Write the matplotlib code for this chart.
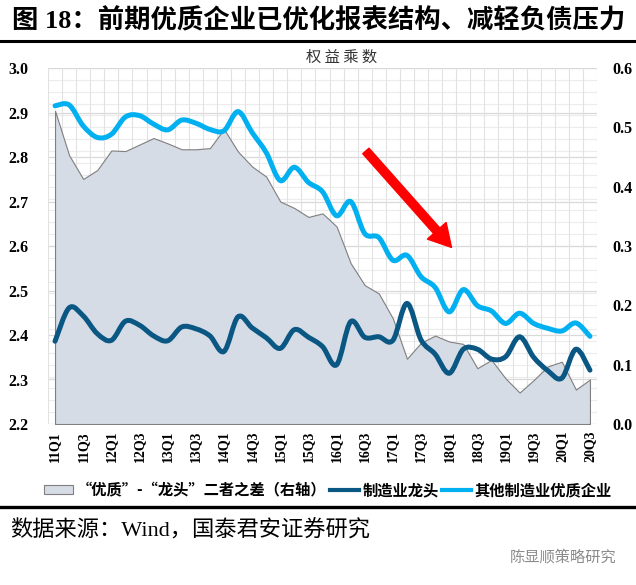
import numpy as np
import matplotlib
matplotlib.use("Agg")
import matplotlib.pyplot as plt
from matplotlib.path import Path
from matplotlib.patches import PathPatch, Patch, FancyArrowPatch
from matplotlib.lines import Line2D
from matplotlib.font_manager import FontProperties
import matplotlib.transforms as mtransforms
from matplotlib.ticker import MultipleLocator, FormatStrFormatter

# ---------------- data ----------------
quarters = ["11Q1", "11Q2", "11Q3", "11Q4", "12Q1", "12Q2", "12Q3", "12Q4",
            "13Q1", "13Q2", "13Q3", "13Q4", "14Q1", "14Q2", "14Q3", "14Q4",
            "15Q1", "15Q2", "15Q3", "15Q4", "16Q1", "16Q2", "16Q3", "16Q4",
            "17Q1", "17Q2", "17Q3", "17Q4", "18Q1", "18Q2", "18Q3", "18Q4",
            "19Q1", "19Q2", "19Q3", "19Q4", "20Q1", "20Q2", "20Q3"]
tick_labels = ["11Q1", "11Q3", "12Q1", "12Q3", "13Q1", "13Q3", "14Q1", "14Q3",
               "15Q1", "15Q3", "16Q1", "16Q3", "17Q1", "17Q3", "18Q1", "18Q3",
               "19Q1", "19Q3", "20Q1", "20Q3"]

# 制造业龙头 (left axis)
leaders = [2.386, 2.461, 2.443, 2.403, 2.388, 2.431, 2.422, 2.398,
           2.387, 2.418, 2.414, 2.398, 2.363, 2.441, 2.416, 2.394,
           2.370, 2.412, 2.395, 2.374, 2.333, 2.430, 2.395, 2.396,
           2.388, 2.471, 2.389, 2.357, 2.314, 2.368, 2.368, 2.346,
           2.351, 2.396, 2.350, 2.320, 2.303, 2.368, 2.321]

# 其他制造业优质企业 (left axis)
others = [2.915, 2.917, 2.870, 2.844, 2.851, 2.890, 2.893, 2.874,
          2.861, 2.883, 2.876, 2.862, 2.859, 2.902, 2.855, 2.810,
          2.747, 2.777, 2.743, 2.722, 2.668, 2.700, 2.628, 2.619,
          2.568, 2.579, 2.531, 2.507, 2.452, 2.502, 2.466, 2.454,
          2.426, 2.449, 2.426, 2.415, 2.409, 2.427, 2.397]

# “优质”-“龙头”二者之差 (right axis)
gap = [0.528, 0.453, 0.413, 0.428, 0.461, 0.460, 0.471, 0.482,
       0.473, 0.463, 0.463, 0.465, 0.497, 0.459, 0.434, 0.417,
       0.375, 0.364, 0.349, 0.355, 0.333, 0.271, 0.234, 0.220,
       0.178, 0.110, 0.137, 0.149, 0.139, 0.135, 0.094, 0.108,
       0.077, 0.053, 0.074, 0.097, 0.105, 0.058, 0.075]

legend_labels = ["“优质”-“龙头”二者之差（右轴）", "制造业龙头", "其他制造业优质企业"]

# ---------------- style ----------------
CJK = "Noto Sans CJK SC"
SERIF = "Liberation Serif"
C_LIGHT = "#00B0F0"
C_DARK = "#0A5784"
C_AREA = "#D6DCE5"
C_EDGE = "#7F7F7F"

W, H = 636, 585
fig = plt.figure(figsize=(W / 100, H / 100), dpi=100)
fig.patch.set_facecolor("white")

ax = fig.add_axes([48 / W, 1 - 424 / H, (597 - 48) / W, (424 - 68) / H])
ax2 = ax.twinx()
ax.set_zorder(ax2.get_zorder() + 1)
ax.patch.set_visible(False)

x = np.arange(len(quarters))
ax.set_xlim(-0.5, len(quarters) - 0.5)
ax.set_ylim(2.2, 3.0)
ax2.set_ylim(0.0, 0.6)

# grids (all beneath the area)
ax2.set_axisbelow(True)
ax2.yaxis.set_major_locator(MultipleLocator(0.1))
ax2.yaxis.set_minor_locator(MultipleLocator(0.02))
ax2.grid(True, which="both", axis="y", color="#ECECEC", lw=0.8)
left_ticks = np.arange(2.2, 3.001, 0.1)
blend = mtransforms.blended_transform_factory(ax2.transAxes, ax.transData)
for v in left_ticks:
    ax2.plot([0, 1], [v, v], transform=blend, color="#D9D9D9", lw=0.9, zorder=0.6)
for b in np.arange(len(quarters) + 1) - 0.5:
    ax2.axvline(b, color="#E2E2E2", lw=0.8, zorder=0.6)

# area on right axis
ax2.fill_between(x, 0, gap, facecolor=C_AREA, edgecolor=C_EDGE, lw=0.8, zorder=1)


def smooth_path(xs, ys):
    pts = np.column_stack([xs, ys]).astype(float)
    n = len(pts)
    verts = [pts[0]]
    codes = [Path.MOVETO]
    for i in range(n - 1):
        p0 = pts[i - 1] if i > 0 else pts[i]
        p1 = pts[i]
        p2 = pts[i + 1]
        p3 = pts[i + 2] if i + 2 < n else pts[i + 1]
        c1 = p1 + (p2 - p0) / 6.0
        c2 = p2 - (p3 - p1) / 6.0
        verts += [c1, c2, p2]
        codes += [Path.CURVE4] * 3
    return Path(verts, codes)


ax.add_patch(PathPatch(smooth_path(x, leaders), fill=False, edgecolor=C_DARK,
                       lw=3.6, capstyle="round", joinstyle="round", zorder=3))
ax.add_patch(PathPatch(smooth_path(x, others), fill=False, edgecolor=C_LIGHT,
                       lw=3.6, capstyle="round", joinstyle="round", zorder=4))

# ticks
ax.set_yticks(left_ticks)
ax.yaxis.set_major_formatter(FormatStrFormatter("%.1f"))
ax2.yaxis.set_major_formatter(FormatStrFormatter("%.1f"))
ax.set_xticks(x[::2])
ax.set_xticklabels(tick_labels, rotation=90, fontfamily=SERIF,
                   fontweight="bold", fontsize=10)
for lab in ax.get_yticklabels():
    lab.set_fontfamily(SERIF); lab.set_fontweight("bold"); lab.set_fontsize(11.5)
for lab in ax2.get_yticklabels():
    lab.set_fontfamily(SERIF); lab.set_fontweight("bold"); lab.set_fontsize(11.5)
ax.tick_params(axis="both", which="both", length=0)
ax.tick_params(axis="y", pad=14)
ax.tick_params(axis="x", pad=5)
ax2.tick_params(axis="y", which="both", length=0, pad=11)
for a in (ax, ax2):
    for s in a.spines.values():
        s.set_visible(False)

# red arrow annotation
arrow = FancyArrowPatch((0.579, 0.767), (0.735, 0.496), transform=ax.transAxes,
                        arrowstyle="simple,head_length=0.8,head_width=0.9,tail_width=0.3",
                        mutation_scale=20, color="#FF0000", shrinkA=0, shrinkB=0, zorder=6)
ax.add_patch(arrow)

# axis title (letter-spaced)
fig.text(342 / W, 1 - 57 / H, "权 益 乘 数", ha="center", va="center",
         fontsize=11, family=CJK, color="#333333")

# legend
handles = [Patch(facecolor=C_AREA, edgecolor=C_EDGE, lw=0.8),
           Line2D([], [], color=C_DARK, lw=3),
           Line2D([], [], color=C_LIGHT, lw=3)]
fig.legend(handles, legend_labels, loc="center", bbox_to_anchor=(328 / W, 1 - 490 / H),
           ncol=3, frameon=False, prop=FontProperties(family=CJK, size=11, weight="bold"),
           handlelength=1.9, handleheight=0.6, handletextpad=0.25, columnspacing=0.2,
           borderaxespad=0, borderpad=0)

# title and rules
fig.text(12 / W, 1 - 21 / H, "图 18：前期优质企业已优化报表结构、减轻负债压力",
         ha="left", va="center", fontsize=19, fontweight="bold",
         family=[SERIF, CJK])
fig.add_artist(Line2D([0, 1], [1 - 41 / H, 1 - 41 / H], transform=fig.transFigure,
                      color="black", lw=2.2))
fig.add_artist(Line2D([0, 1], [1 - 507 / H, 1 - 507 / H], transform=fig.transFigure,
                      color="black", lw=2.4))

# source and watermark
fig.text(10 / W, 1 - 531 / H, "数据来源：Wind，国泰君安证券研究", ha="left", va="center",
         fontsize=16, family=[SERIF, CJK])
fig.text(510 / W, 1 - 557 / H, "陈显顺策略研究", ha="left", va="center",
         fontsize=11, family=CJK, color="#8C8C8C")

fig.savefig("out.png", dpi=100, facecolor="white")
